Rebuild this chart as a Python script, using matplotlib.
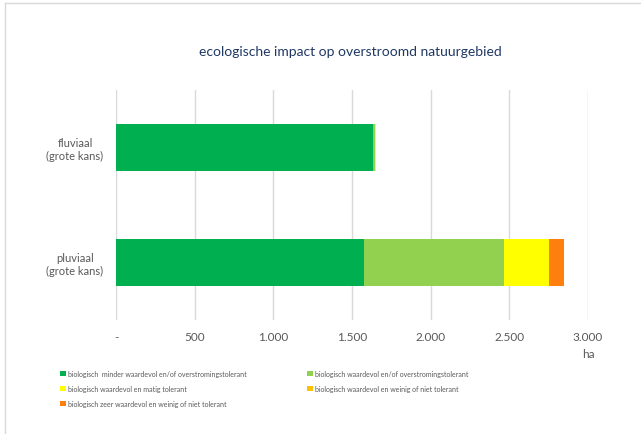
import matplotlib
matplotlib.use("Agg")
import matplotlib.pyplot as plt
from matplotlib.lines import Line2D
from matplotlib.patches import Patch

plt.rcParams['font.family'] = ['Lato', 'DejaVu Sans']

categories = ["pluviaal\n(grote kans)", "fluviaal\n(grote kans)"]
series_names = [
    "biologisch  minder waardevol en/of overstromingstolerant",
    "biologisch waardevol en/of overstromingstolerant",
    "biologisch waardevol en matig tolerant",
    "biologisch waardevol en weinig of niet tolerant",
    "biologisch zeer waardevol en weinig of niet tolerant",
]
# values in ha, order: pluviaal, fluviaal
minder_waardevol = [1578, 1636]
waardevol_tolerant = [891, 13]
matig_tolerant = [285, 5]
weinig_tolerant = [0, 0]
zeer_waardevol = [92, 0]
series = [minder_waardevol, waardevol_tolerant, matig_tolerant,
          weinig_tolerant, zeer_waardevol]
colors = ["#00B050", "#92D050", "#FFFF00", "#FFC000", "#FF7F0E"]

xticks = [0, 500, 1000, 1500, 2000, 2500, 3000]
xticklabels = ["-", "500", "1.000", "1.500", "2.000", "2.500", "3.000"]

W, H = 641, 435
fig = plt.figure(figsize=(W / 100, H / 100), dpi=100)
ax = fig.add_axes([116 / W, 1 - 321 / H, (588 - 116) / W, (321 - 91) / H])

ypos = list(range(len(categories)))
left = [0] * len(categories)
for vals, col in zip(series, colors):
    ax.barh(ypos, vals, left=left, height=0.41, color=col, zorder=3)
    left = [a + b for a, b in zip(left, vals)]

ax.set_xlim(0, 3000)
ax.set_ylim(-0.5, 1.5)
ax.set_xticks(xticks)
ax.set_xticklabels(xticklabels, fontsize=8.5, color="#595959")
ax.set_yticks(ypos)
ax.set_yticklabels(categories, fontsize=8, color="#595959")
for lab in ax.get_yticklabels():
    lab.set_horizontalalignment("center")
    lab.set_multialignment("center")
ax.tick_params(axis="y", length=0, pad=29.5)
ax.tick_params(axis="x", length=0, pad=8)
ax.grid(axis="x", color="#D9D9D9", linewidth=1, zorder=0)
for s in ax.spines.values():
    s.set_visible(False)

fig.text(350 / W, 1 - 52 / H, "ecologische impact op overstroomd natuurgebied",
         ha="center", va="center", fontsize=10, color="#1F3864")
fig.text(588 / W, 1 - 355 / H, "ha", ha="center", va="center",
         fontsize=8.5, color="#595959")

handles = [Patch(facecolor=c, edgecolor="none") for c in colors]
leg_kw = dict(frameon=False, fontsize=5.0, handlelength=0.8, handleheight=0.8,
              handletextpad=0.35, labelspacing=1.15, labelcolor="#595959",
              borderaxespad=0, borderpad=0)
fig.legend([handles[0], handles[2], handles[4]],
           [series_names[0], series_names[2], series_names[4]],
           loc="upper left", bbox_to_anchor=(60 / W, 1 - 371 / H), **leg_kw)
fig.legend([handles[1], handles[3]], [series_names[1], series_names[3]],
           loc="upper left", bbox_to_anchor=(307 / W, 1 - 371 / H), **leg_kw)

# light frame around the chart area
fig.add_artist(Line2D([5 / W, 1], [1 - 4 / H, 1 - 4 / H], color="#D9D9D9", lw=1))
fig.add_artist(Line2D([5 / W, 5 / W], [0, 1 - 4 / H], color="#D9D9D9", lw=1))

fig.savefig("out.png", dpi=100)
